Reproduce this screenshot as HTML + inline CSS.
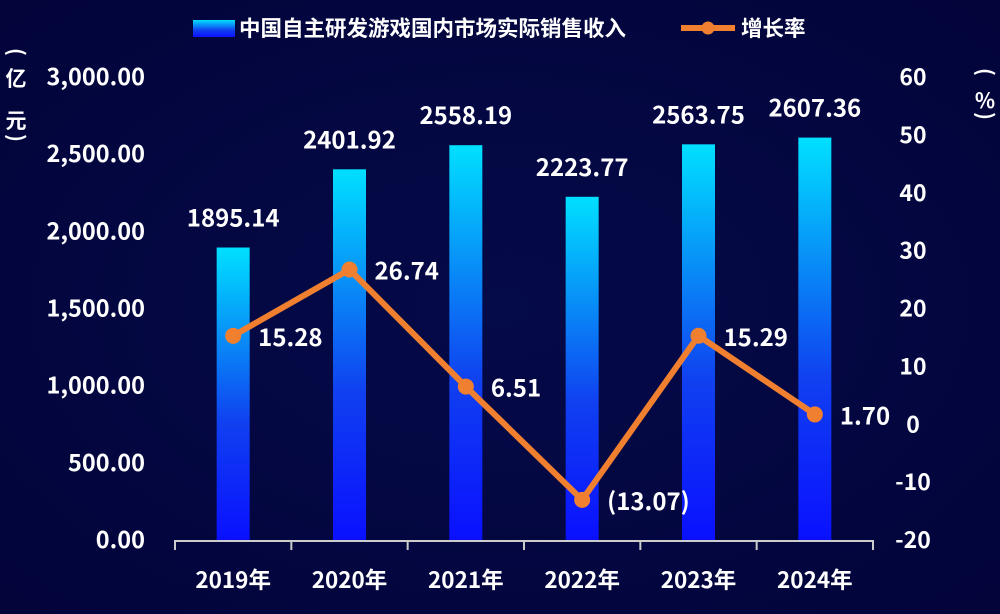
<!DOCTYPE html>
<html><head><meta charset="utf-8"><style>
html,body{margin:0;padding:0;background:#03063c;}
svg{display:block;font-family:"Noto Sans CJK SC","Liberation Sans",sans-serif;font-weight:bold;}
</style></head><body>
<svg id="chart" width="1000" height="614" viewBox="0 0 1000 614">
<defs>
<linearGradient id="barg" x1="0" y1="0" x2="0" y2="1"><stop offset="0" stop-color="#00e0ff"/><stop offset="0.6" stop-color="#1040f0"/><stop offset="1" stop-color="#0a10ff"/></linearGradient>
<radialGradient id="bgg" cx="0.5" cy="0.5" r="0.7"><stop offset="0" stop-color="#050a48"/><stop offset="1" stop-color="#02043a"/></radialGradient>
</defs>
<rect width="1000" height="614" fill="url(#bgg)"/>
<g>
<rect x="193" y="20" width="42" height="17" fill="url(#barg)"/>
<text x="239" y="36" fill="#fff" font-size="21.5">中国自主研发游戏国内市场实际销售收入</text>
<line x1="681" y1="28" x2="735" y2="28" stroke="#f08030" stroke-width="6"/>
<circle cx="708" cy="28" r="6.5" fill="#f08030"/>
<text x="741" y="36" fill="#fff" font-size="21.5">增长率</text>
</g>
<g fill="#fff" font-size="21" text-anchor="middle">
<text transform="translate(16,52) rotate(90)" y="7">(</text>
<text x="16" y="86">亿</text>
<text x="16" y="128">元</text>
<text transform="translate(16,138) rotate(90)" y="7">)</text>
</g>
<g fill="#fff" font-size="21" text-anchor="middle">
<text transform="translate(985,72) rotate(90)" y="7">(</text>
<text x="985" y="108">%</text>
<text transform="translate(985,116) rotate(90)" y="7">)</text>
</g>
<g id="layer"></g>
</svg>
<script>
const categories=["2019年","2020年","2021年","2022年","2023年","2024年"];
const revenue=[1895.14,2401.92,2558.19,2223.77,2563.75,2607.36];
const revenueLabels=["1895.14","2401.92","2558.19","2223.77","2563.75","2607.36"];
const growth=[15.28,26.74,6.51,-13.07,15.29,1.70];
const growthLabels=["15.28","26.74","6.51","(13.07)","15.29","1.70"];
const leftTicks=[0,500,1000,1500,2000,2500,3000];
const rightTicks=[-20,-10,0,10,20,30,40,50,60];
const X0=175,X1=873,Y0=540,Y1=77;
const band=(X1-X0)/categories.length;
const xc=i=>X0+band*(i+0.5);
const yl=v=>Y0-(v/3000)*(Y0-Y1);
const yr=v=>Y0-((v+20)/80)*(Y0-Y1);
const NS="http://www.w3.org/2000/svg";
const g=document.getElementById('layer');
function mk(t,a){const e=document.createElementNS(NS,t);for(const k in a)e.setAttribute(k,a[k]);g.appendChild(e);return e;}
leftTicks.forEach(v=>{const t=mk('text',{x:145,y:yl(v)+8,fill:'#fff','font-size':23.5,'text-anchor':'end'});t.textContent=v.toLocaleString('en-US',{minimumFractionDigits:2,maximumFractionDigits:2});

});
rightTicks.forEach(v=>{const t=mk('text',{x:913,y:yr(v)+8,fill:'#fff','font-size':23,'text-anchor':'middle'});t.textContent=v;

});
const ax=mk('line',{x1:X0,y1:Y0+1,x2:X1,y2:Y0+1,stroke:'#ccc','stroke-width':2});


for(let i=0;i<=categories.length;i++){const tk=mk('line',{x1:X0+band*i,y1:Y0,x2:X0+band*i,y2:Y0+10,stroke:'#ccc','stroke-width':2});

}
categories.forEach((c,i)=>{
const b=mk('rect',{x:xc(i)-16.5,y:yl(revenue[i]),width:33,height:Y0-yl(revenue[i]),fill:'url(#barg)'});


const l=mk('text',{x:xc(i),y:yl(revenue[i])-21,fill:'#fff','font-size':24,'text-anchor':'middle'});l.textContent=revenueLabels[i];


const xl=mk('text',{x:xc(i),y:588,fill:'#fff','font-size':22.5,'text-anchor':'middle'});xl.textContent=c;


});
const pl=mk('polyline',{points:growth.map((v,i)=>xc(i)+','+yr(v)).join(' '),fill:'none',stroke:'#f08030','stroke-width':6,'stroke-linejoin':'round'});


growth.forEach((v,i)=>{
const c=mk('circle',{cx:xc(i),cy:yr(v),r:8,fill:'#f08030'});


const t=mk('text',{x:xc(i)+25,y:yr(v)+10,fill:'#fff','font-size':24});t.textContent=growthLabels[i];


});
</script>
</body></html>
